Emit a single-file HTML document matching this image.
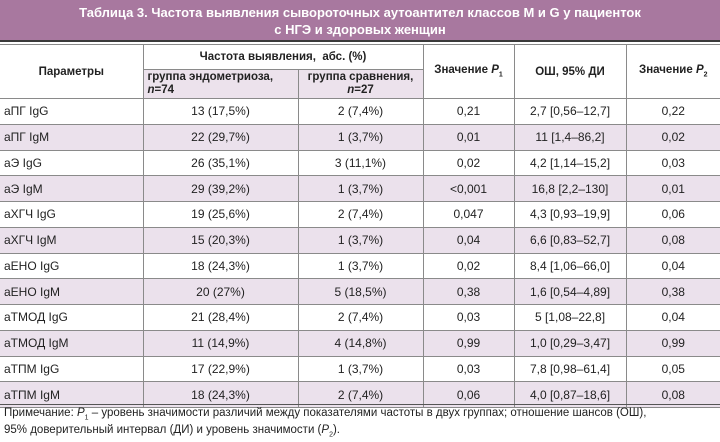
<!DOCTYPE html>
<html><head><meta charset="utf-8"><style>
body{margin:0;width:720px;height:431px;background:#fff;font-family:"Liberation Sans",sans-serif;color:#222;overflow:hidden;position:relative}
.title{position:absolute;left:0;top:0;width:720px;height:42px;background:#a8789f;color:#fff;font-weight:bold;font-size:13px;text-align:center;line-height:17px;padding-top:4px;box-sizing:border-box;border-bottom:2px solid #3a3a3a}
table{position:absolute;left:0;top:44px;width:720px;border-collapse:collapse;table-layout:fixed;font-size:12px}
td{border:1px solid #8a8a8a;text-align:center;padding:0;height:24.75px}
tr td:first-child{border-left:none;text-align:left;padding-left:4px}
tr td:last-child{border-right:none}
.h td{font-weight:bold;font-size:11.5px}
.sub{background:#ece2ec}
tr.s td{background:#ebe1ec}
.note{position:absolute;left:0;top:404px;font-size:11.5px;line-height:12px;border-top:1px solid #555;width:716px;padding:2px 0 0 4px}
</style></head><body>
<div class="title">Таблица 3. Частота выявления сывороточных аутоантител классов M и G у пациенток<br>с НГЭ и здоровых женщин</div>
<table>
<colgroup><col style="width:143px"><col style="width:155px"><col style="width:125px"><col style="width:91px"><col style="width:112px"><col style="width:94px"></colgroup>
<tr class="h"><td rowspan="2" style="text-align:center;padding:0;height:52px">Параметры</td><td colspan="2" style="height:24px">Частота выявления, &nbsp;абс. (%)</td><td rowspan="2">Значение <i>P</i><sub style="font-size:7px">1</sub></td><td rowspan="2">ОШ, 95% ДИ</td><td rowspan="2">Значение <i>P</i><sub style="font-size:7px">2</sub></td></tr>
<tr class="h"><td class="sub" style="height:28px;line-height:13px">группа эндометриоза,<br><i>n</i>=74</td><td class="sub" style="line-height:13px">группа сравнения,<br><i>n</i>=27</td></tr>
<tr><td>аПГ IgG</td><td>13 (17,5%)</td><td>2 (7,4%)</td><td>0,21</td><td>2,7 [0,56–12,7]</td><td>0,22</td></tr>
<tr class="s"><td>аПГ IgM</td><td>22 (29,7%)</td><td>1 (3,7%)</td><td>0,01</td><td>11 [1,4–86,2]</td><td>0,02</td></tr>
<tr><td>аЭ IgG</td><td>26 (35,1%)</td><td>3 (11,1%)</td><td>0,02</td><td>4,2 [1,14–15,2]</td><td>0,03</td></tr>
<tr class="s"><td>аЭ IgM</td><td>29 (39,2%)</td><td>1 (3,7%)</td><td>&lt;0,001</td><td>16,8 [2,2–130]</td><td>0,01</td></tr>
<tr><td>аХГЧ IgG</td><td>19 (25,6%)</td><td>2 (7,4%)</td><td>0,047</td><td>4,3 [0,93–19,9]</td><td>0,06</td></tr>
<tr class="s"><td>аХГЧ IgM</td><td>15 (20,3%)</td><td>1 (3,7%)</td><td>0,04</td><td>6,6 [0,83–52,7]</td><td>0,08</td></tr>
<tr><td>аЕНО IgG</td><td>18 (24,3%)</td><td>1 (3,7%)</td><td>0,02</td><td>8,4 [1,06–66,0]</td><td>0,04</td></tr>
<tr class="s"><td>аЕНО IgM</td><td>20 (27%)</td><td>5 (18,5%)</td><td>0,38</td><td>1,6 [0,54–4,89]</td><td>0,38</td></tr>
<tr><td>аТМОД IgG</td><td>21 (28,4%)</td><td>2 (7,4%)</td><td>0,03</td><td>5 [1,08–22,8]</td><td>0,04</td></tr>
<tr class="s"><td>аТМОД IgM</td><td>11 (14,9%)</td><td>4 (14,8%)</td><td>0,99</td><td>1,0 [0,29–3,47]</td><td>0,99</td></tr>
<tr><td>аТПМ IgG</td><td>17 (22,9%)</td><td>1 (3,7%)</td><td>0,03</td><td>7,8 [0,98–61,4]</td><td>0,05</td></tr>
<tr class="s"><td>аТПМ IgM</td><td>18 (24,3%)</td><td>2 (7,4%)</td><td>0,06</td><td>4,0 [0,87–18,6]</td><td>0,08</td></tr>
</table>
<div class="note">Примечание: <i>P</i><sub style="font-size:7px">1</sub> – уровень значимости различий между показателями частоты в двух группах; отношение шансов (ОШ),<br>95% доверительный интервал (ДИ) и уровень значимости (<i>P</i><sub style="font-size:7px">2</sub>).</div>
</body></html>
